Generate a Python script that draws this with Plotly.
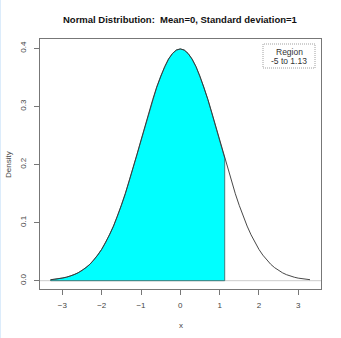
import plotly.graph_objects as go

# ---- data ----
x_vals = [-3.3, -3.2, -3.1, -3.0, -2.9, -2.8, -2.7, -2.6, -2.5, -2.4, -2.3, -2.2, -2.1, -2.0,
          -1.9, -1.8, -1.7, -1.6, -1.5, -1.4, -1.3, -1.2, -1.1, -1.0, -0.9, -0.8, -0.7, -0.6,
          -0.5, -0.4, -0.3, -0.2, -0.1, 0.0, 0.1, 0.2, 0.3, 0.4, 0.5, 0.6, 0.7, 0.8, 0.9, 1.0,
          1.1, 1.13, 1.2, 1.3, 1.4, 1.5, 1.6, 1.7, 1.8, 1.9, 2.0, 2.1, 2.2, 2.3, 2.4, 2.5, 2.6,
          2.7, 2.8, 2.9, 3.0, 3.1, 3.2, 3.3]
density = [0.0017, 0.0024, 0.0033, 0.0044, 0.0060, 0.0079, 0.0104, 0.0136, 0.0175, 0.0224,
           0.0283, 0.0355, 0.0440, 0.0540, 0.0656, 0.0790, 0.0940, 0.1109, 0.1295, 0.1497,
           0.1714, 0.1942, 0.2179, 0.2420, 0.2661, 0.2897, 0.3123, 0.3332, 0.3521, 0.3683,
           0.3814, 0.3910, 0.3970, 0.3989, 0.3970, 0.3910, 0.3814, 0.3683, 0.3521, 0.3332,
           0.3123, 0.2897, 0.2661, 0.2420, 0.2179, 0.2107, 0.1942, 0.1714, 0.1497, 0.1295,
           0.1109, 0.0940, 0.0790, 0.0656, 0.0540, 0.0440, 0.0355, 0.0283, 0.0224, 0.0175,
           0.0136, 0.0104, 0.0079, 0.0060, 0.0044, 0.0033, 0.0024, 0.0017]
region_lower = -5
region_upper = 1.13
x_ticks = [-3, -2, -1, 0, 1, 2, 3]
y_ticks = [0.0, 0.1, 0.2, 0.3, 0.4]
y_tick_text = ["0.0", "0.1", "0.2", "0.3", "0.4"]
title_text = "Normal Distribution:  Mean=0, Standard deviation=1"
legend_title = "Region"
legend_label = f"{region_lower} to {region_upper}"

# shaded polygon built from the arrays
sx = [x for x in x_vals if region_lower <= x <= region_upper]
sy = [d for x, d in zip(x_vals, density) if region_lower <= x <= region_upper]
poly_x = [sx[0]] + sx + [sx[-1], sx[0]]
poly_y = [0] + sy + [0, 0]

FONT = "Liberation Sans, Arial, sans-serif"
fig = go.Figure()
fig.add_trace(go.Scatter(x=poly_x, y=poly_y, mode="lines", fill="toself",
                         fillcolor="#00FFFF", line=dict(color="#3a5a5a", width=0.8),
                         hoverinfo="skip", showlegend=False))
fig.add_trace(go.Scatter(x=x_vals, y=density, mode="lines",
                         line=dict(color="#333333", width=0.9), showlegend=False))

fig.update_layout(
    width=341, height=338,
    margin=dict(l=40, r=20, t=39, b=49),
    paper_bgcolor="white", plot_bgcolor="white",
    font=dict(family=FONT, size=8, color="#444444"),
    showlegend=False,
    shapes=[
        dict(type="line", xref="paper", yref="y", x0=0, x1=1, y0=0, y1=0,
             line=dict(color="#cccccc", width=1), layer="below"),
        dict(type="rect", xref="paper", yref="paper",
             x0=(263 - 40) / 281, x1=(315 - 40) / 281,
             y0=(289 - 68) / 250, y1=(289 - 44) / 250,
             line=dict(color="#888888", width=0.8, dash="1px,1px"), fillcolor="white"),
        dict(type="rect", xref="paper", yref="paper",
             x0=-40 / 281, x1=-39 / 281, y0=-49 / 250, y1=(289) / 250,
             line=dict(width=0), fillcolor="#dcecfb"),
    ],
    annotations=[
        dict(text="<b>" + title_text + "</b>", xref="paper", yref="paper",
             x=0.5, y=(289 - 20) / 250, showarrow=False, xanchor="center", yanchor="middle",
             font=dict(family=FONT, size=9.5, color="#111111")),
        dict(text=legend_title, xref="paper", yref="paper",
             x=(289 - 40) / 281, y=(289 - 52) / 250, showarrow=False,
             xanchor="center", yanchor="middle", font=dict(size=8.5, color="#333333")),
        dict(text=legend_label, xref="paper", yref="paper",
             x=(289 - 40) / 281, y=(289 - 61) / 250, showarrow=False,
             xanchor="center", yanchor="middle", font=dict(size=8.5, color="#333333")),
        dict(text="Density", xref="paper", yref="paper", textangle=-90,
             x=(8 - 40) / 281, y=(289 - 165) / 250, showarrow=False,
             xanchor="center", yanchor="middle", font=dict(size=8, color="#444444")),
        dict(text="x", xref="paper", yref="paper",
             x=0.5, y=(289 - 325) / 250, showarrow=False,
             xanchor="center", yanchor="middle", font=dict(size=8, color="#444444")),
    ],
)
fig.update_xaxes(range=[-3.57, 3.58], tickvals=x_ticks, ticks="outside", ticklen=5,
                 tickcolor="#777777", showline=True, mirror=True, linecolor="#777777",
                 linewidth=1, showgrid=False, zeroline=False, ticklabelstandoff=3,
                 tickfont=dict(size=8, color="#444444"))
fig.update_yaxes(range=[-0.0143, 0.416], tickvals=y_ticks, ticktext=y_tick_text,
                 ticks="outside", ticklen=5, tickcolor="#777777", tickangle=-90,
                 showline=True, mirror=True, linecolor="#777777", linewidth=1,
                 showgrid=False, zeroline=False, ticklabelstandoff=5,
                 tickfont=dict(size=8, color="#444444"))

fig.write_html("out.html")
